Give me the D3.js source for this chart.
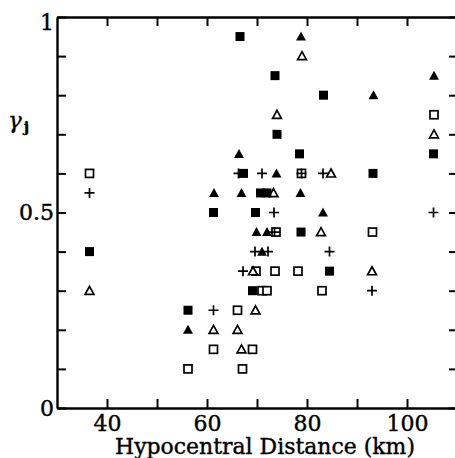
<!DOCTYPE html>
<html>
<head>
<meta charset="utf-8">
<script src="https://cdn.jsdelivr.net/npm/d3@7"></script>
<style>
    body { margin: 0; background: #fff; }
    svg { display: block; }
</style>
</head>
<body>
<div id="chart"></div>
<script>
// [hypocentral distance (km), gamma_j]
const filledSquares = [
    [36.5, 0.4], [56.2, 0.25], [61.3, 0.5], [66.6, 0.95], [67.3, 0.6], [69.7, 0.5],
    [70.7, 0.55], [72, 0.55], [69.1, 0.3], [73.6, 0.85], [74, 0.7], [78.5, 0.65],
    [78.8, 0.45], [83.3, 0.8], [84.5, 0.35], [93.2, 0.6], [105.3, 0.65]
];
const filledTriangles = [
    [56.2, 0.2], [61.4, 0.55], [66.4, 0.65], [66.9, 0.55], [73.9, 0.6], [78.8, 0.95],
    [78.7, 0.55], [83.2, 0.5], [69.9, 0.45], [72, 0.45], [71, 0.4], [93.3, 0.8], [105.4, 0.85]
];
const openTriangles = [
    [36.5, 0.3], [61.3, 0.2], [66.1, 0.2], [66.9, 0.15], [69.7, 0.25], [69.2, 0.35],
    [73.3, 0.55], [74, 0.75], [79, 0.9], [84.8, 0.6], [82.8, 0.45], [93, 0.35], [105.4, 0.7]
];
const openSquares = [
    [36.5, 0.6], [56.2, 0.1], [61.3, 0.15], [66.1, 0.25], [67.1, 0.1], [69.1, 0.15],
    [69.8, 0.35], [73.6, 0.35], [78.2, 0.35], [71, 0.3], [72, 0.3], [83, 0.3],
    [93.1, 0.45], [73.8, 0.45], [78.9, 0.6], [105.4, 0.75]
];
const pluses = [
    [36.5, 0.55], [61.3, 0.25], [67.2, 0.35], [66.3, 0.6], [71, 0.6], [78.9, 0.6],
    [83.2, 0.6], [73.4, 0.5], [105.3, 0.5], [73.5, 0.45], [69.6, 0.4], [72.2, 0.4],
    [84.5, 0.4], [93, 0.3]
];

const xTicks = [40, 50, 60, 70, 80, 90, 100];
const xLabels = [40, 60, 80, 100];
const yTicks = [0, 0.1, 0.2, 0.3, 0.4, 0.5, 0.6, 0.7, 0.8, 0.9, 1];
const yLabels = [0, 0.5, 1];

const width = 455, height = 458;
const padding = { l: 57, r: -2, t: 17, b: 50 };
const serif = "'DejaVu Serif', 'Liberation Serif', serif";

const x = d3.scaleLinear().domain([30, 110]).range([padding.l, width - padding.r]);
const y = d3.scaleLinear().domain([0, 1]).range([height - padding.b, padding.t]);

const svg = d3.select("#chart").append("svg")
    .attr("width", width)
    .attr("height", height);

function styleAxis(g) {
    g.attr("font-family", serif).attr("font-size", 22);
    g.select(".domain").attr("stroke", "#000").attr("stroke-width", 2.4);
    g.selectAll(".tick line").attr("stroke", "#000").attr("stroke-width", 2);
    g.selectAll(".tick text")
        .attr("fill", "#000")
        .attr("stroke", "#000")
        .attr("stroke-width", 0.4)
        .style("font-family", serif)
        .style("font-size", "22px");
}

svg.append("g")
    .attr("transform", `translate(0, ${y(0)})`)
    .call(d3.axisBottom(x).tickValues(xTicks).tickSize(-9).tickSizeOuter(0).tickPadding(7)
        .tickFormat(d => xLabels.includes(d) ? d : ""))
    .call(styleAxis);

svg.append("g")
    .attr("transform", `translate(0, ${y(1)})`)
    .call(d3.axisTop(x).tickValues(xTicks).tickSize(-9).tickSizeOuter(0).tickFormat(""))
    .call(styleAxis);

svg.append("g")
    .attr("transform", `translate(${x(30)}, 0)`)
    .call(d3.axisLeft(y).tickValues(yTicks).tickSize(-9).tickSizeOuter(0).tickPadding(3)
        .tickFormat(d => yLabels.includes(d) ? String(d) : ""))
    .call(styleAxis)
    .call(g => g.selectAll(".tick text").filter(d => d === 1).attr("dy", "0.55em"));

svg.append("g")
    .attr("transform", `translate(${x(110)}, 0)`)
    .call(d3.axisRight(y).tickValues(yTicks).tickSize(-8).tickSizeOuter(0).tickFormat(""))
    .call(styleAxis);

// axis titles
svg.append("text")
    .attr("x", 265)
    .attr("y", 454)
    .attr("text-anchor", "middle")
    .attr("textLength", 300)
    .attr("lengthAdjust", "spacingAndGlyphs")
    .attr("stroke", "#000")
    .attr("stroke-width", 0.4)
    .style("font-family", serif)
    .style("font-size", "22px")
    .text("Hypocentral Distance (km)");

const yTitle = svg.append("text")
    .attr("x", 8)
    .attr("y", 128)
    .attr("stroke", "#000")
    .attr("stroke-width", 0.3)
    .style("font-family", serif)
    .style("font-size", "23px");
yTitle.append("tspan").style("font-style", "italic").text("γ");
yTitle.append("tspan").attr("dx", 2).attr("dy", 4).style("font-size", "15px").style("font-weight", "bold").text("j");

// markers
const marks = svg.append("g").attr("id", "marks");
const tri = s => `M0,${-s * 0.55}L${s * 0.55},${s * 0.45}L${-s * 0.55},${s * 0.45}Z`;

marks.append("g").selectAll("rect")
    .data(openSquares)
    .join("rect")
    .attr("x", d => x(d[0]) - 4)
    .attr("y", d => y(d[1]) - 4)
    .attr("width", 8)
    .attr("height", 8)
    .attr("fill", "#fff")
    .attr("stroke", "#000")
    .attr("stroke-width", 1.7);

marks.append("g").selectAll("path")
    .data(openTriangles)
    .join("path")
    .attr("transform", d => `translate(${x(d[0])}, ${y(d[1])})`)
    .attr("d", tri(8))
    .attr("fill", "#fff")
    .attr("stroke", "#000")
    .attr("stroke-width", 1.7);

marks.append("g").selectAll("path")
    .data(pluses)
    .join("path")
    .attr("transform", d => `translate(${x(d[0])}, ${y(d[1])})`)
    .attr("d", "M-5,0H5M0,-5V5")
    .attr("stroke", "#000")
    .attr("stroke-width", 1.7);

marks.append("g").selectAll("rect")
    .data(filledSquares)
    .join("rect")
    .attr("x", d => x(d[0]) - 4.5)
    .attr("y", d => y(d[1]) - 4.5)
    .attr("width", 9)
    .attr("height", 9)
    .attr("fill", "#000");

marks.append("g").selectAll("path")
    .data(filledTriangles)
    .join("path")
    .attr("transform", d => `translate(${x(d[0])}, ${y(d[1])})`)
    .attr("d", tri(9))
    .attr("fill", "#000");
</script>
</body>
</html>
